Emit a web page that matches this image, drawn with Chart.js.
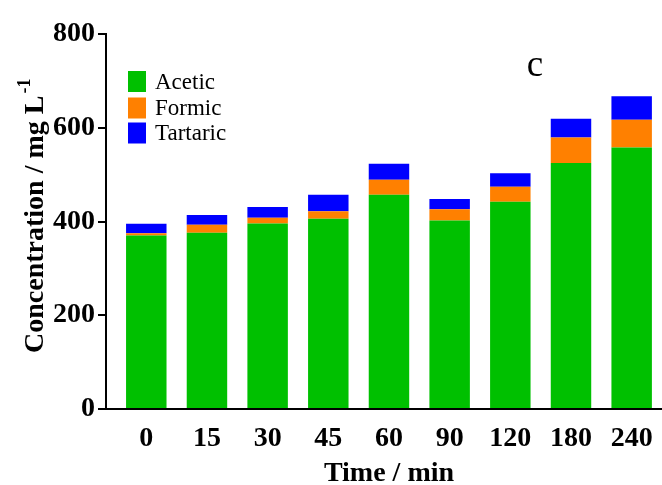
<!DOCTYPE html>
<html>
<head>
<meta charset="utf-8">
<script src="https://cdn.jsdelivr.net/npm/chart.js@4/dist/chart.umd.min.js"></script>
<style>
  html, body { margin: 0; padding: 0; background: #fff; }
  #chart { display: block; }
</style>
</head>
<body>
<canvas id="chart" width="662" height="485"></canvas>
<script>
// Sampling times (min)
const timeLabels = ['0', '15', '30', '45', '60', '90', '120', '180', '240'];

// Organic acid concentrations (mg/L), stacked bottom to top
const acetic   = [370, 376, 396, 406, 457, 402, 442, 525, 558];
const formic   = [5, 17, 12, 16, 32, 24, 32, 54, 59];
const tartaric = [20, 21, 23, 35, 34, 22, 29, 40, 50];

// Y-axis tick values
const yTicks = [0, 200, 400, 600, 800];

const SERIF = '"Liberation Serif", "Times New Roman", serif';

const toPoints = arr => arr.map((v, i) => ({ x: i, y: v }));

// Titles, in-plot legend and panel letter
const decorations = {
  id: 'decorations',
  afterDraw(chart) {
    const ctx = chart.ctx;
    ctx.save();
    ctx.fillStyle = '#000';

    // x-axis title
    ctx.font = 'bold 28px ' + SERIF;
    ctx.textAlign = 'center';
    ctx.textBaseline = 'alphabetic';
    ctx.fillText('Time / min', 389, 481);

    // y-axis title with superscript unit exponent
    ctx.save();
    ctx.translate(43, 353);
    ctx.rotate(-Math.PI / 2);
    ctx.textAlign = 'left';
    ctx.font = 'bold 28px ' + SERIF;
    const main = 'Concentration / mg L';
    ctx.fillText(main, 0, 0);
    const w = ctx.measureText(main).width;
    ctx.font = 'bold 18px ' + SERIF;
    ctx.fillText('-1', w + 2, -13);
    ctx.restore();

    // legend inside the plot, top-left
    const boxX = 128, boxW = 18, boxH = 21;
    const rowTop = [71, 97.5, 122.5];
    ctx.font = '23px ' + SERIF;
    ctx.textAlign = 'left';
    ctx.textBaseline = 'middle';
    chart.data.datasets.forEach((ds, i) => {
      ctx.fillStyle = ds.backgroundColor;
      ctx.fillRect(boxX, rowTop[i], boxW, boxH);
      ctx.fillStyle = '#000';
      ctx.fillText(ds.label, 155, rowTop[i] + boxH / 2 + 1);
    });

    // panel letter
    ctx.font = '37px ' + SERIF;
    ctx.textAlign = 'center';
    ctx.textBaseline = 'alphabetic';
    ctx.fillText('c', 535, 76);

    ctx.restore();
  }
};

new Chart(document.getElementById('chart'), {
  type: 'bar',
  data: {
    datasets: [
      { label: 'Acetic',   data: toPoints(acetic),   backgroundColor: '#00c000' },
      { label: 'Formic',   data: toPoints(formic),   backgroundColor: '#ff8000' },
      { label: 'Tartaric', data: toPoints(tartaric), backgroundColor: '#0000ff' }
    ]
  },
  options: {
    responsive: false,
    animation: false,
    devicePixelRatio: 1,
    layout: { padding: { left: 0, right: 0, top: 34, bottom: 0 } },
    datasets: { bar: { barPercentage: 0.667, categoryPercentage: 1.0, borderWidth: 0 } },
    plugins: { legend: { display: false }, tooltip: { enabled: false }, title: { display: false } },
    scales: {
      x: {
        type: 'linear',
        stacked: true,
        offset: false,
        min: -0.664,
        max: 8.5,
        afterBuildTicks: scale => { scale.ticks = timeLabels.map((_, i) => ({ value: i })); },
        afterFit: scale => { scale.height = 76; },
        grid: { display: false, offset: false },
        border: { display: true, color: '#000', width: 2 },
        ticks: {
          autoSkip: false,
          maxRotation: 0,
          padding: 5,
          color: '#000',
          font: { family: SERIF, size: 28, weight: 'bold' },
          callback: value => timeLabels[value]
        }
      },
      y: {
        stacked: true,
        min: 0,
        max: 800,
        afterBuildTicks: scale => { scale.ticks = yTicks.map(v => ({ value: v })); },
        afterFit: scale => { scale.width = 106; },
        grid: { drawOnChartArea: false, drawTicks: true, tickLength: 8, color: '#000', lineWidth: 2 },
        border: { display: true, color: '#000', width: 2 },
        ticks: {
          padding: 3,
          color: '#000',
          font: { family: SERIF, size: 28, weight: 'bold' }
        }
      }
    }
  },
  plugins: [decorations]
});
</script>
</body>
</html>
